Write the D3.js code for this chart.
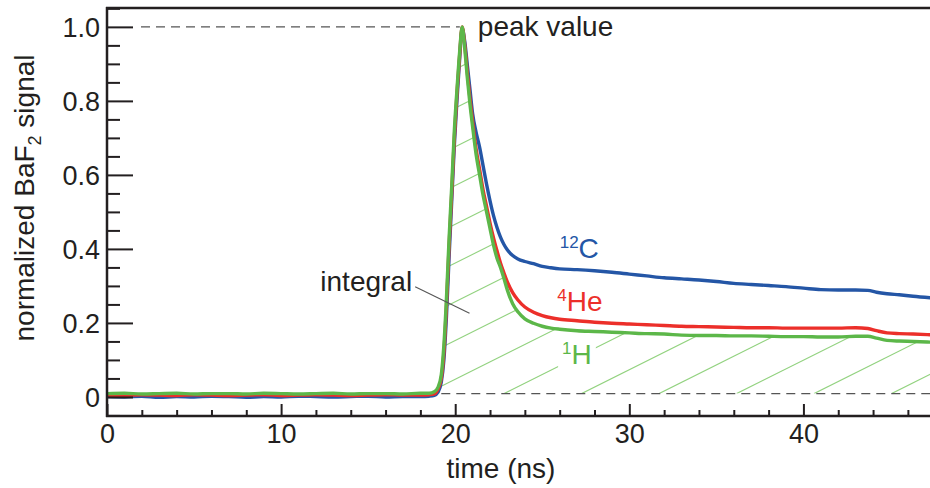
<!DOCTYPE html>
<html><head><meta charset="utf-8">
<script src="https://cdn.jsdelivr.net/npm/d3@7"></script>
<style>
body{margin:0;background:#fff}
svg{display:block}
text{font-family:'Liberation Sans',Arial,Helvetica,sans-serif;fill:#231f20}
</style>
</head><body><svg id="c" width="930" height="488"></svg>
<script>
// ---- data ----
const times = [0,1,2,3,4,5,6,7,8,9,10,11,12,13,14,15,16,17,18,18.5,18.8,19.0,19.2,19.35,19.5,19.65,19.8,19.95,20.1,20.25,20.4,20.55,20.7,20.85,21.0,21.2,21.4,21.6,21.8,22.0,22.2,22.4,22.6,22.8,23.0,23.3,23.6,24.0,24.5,25.0,25.5,26,27,28,29,30,31,32,33,34,35,36,37,38,39,40,41,42,43,43.7,44.2,44.8,45.5,46.3,47.3];
const c12 = [0.001,0.000,0.002,-0.001,0.001,0.000,0.002,0.001,-0.001,0.001,0.000,0.002,0.001,0.000,0.001,0.002,0.000,0.001,0.001,0.002,0.004,0.012,0.04,0.10,0.22,0.38,0.53,0.68,0.80,0.91,0.995,0.96,0.895,0.83,0.765,0.715,0.675,0.625,0.575,0.53,0.49,0.458,0.432,0.412,0.397,0.382,0.373,0.366,0.36,0.353,0.349,0.346,0.344,0.341,0.337,0.332,0.327,0.322,0.319,0.316,0.312,0.307,0.304,0.301,0.298,0.294,0.290,0.289,0.289,0.288,0.283,0.279,0.276,0.272,0.268];
const he4 = [0.005,0.004,0.006,0.005,0.004,0.006,0.005,0.004,0.005,0.006,0.004,0.005,0.006,0.005,0.004,0.005,0.006,0.005,0.005,0.006,0.008,0.02,0.05,0.12,0.25,0.41,0.55,0.70,0.82,0.92,1.0,0.95,0.875,0.805,0.745,0.67,0.615,0.56,0.515,0.47,0.43,0.395,0.362,0.335,0.31,0.282,0.262,0.243,0.229,0.22,0.214,0.21,0.206,0.202,0.199,0.197,0.195,0.193,0.191,0.19,0.189,0.188,0.187,0.187,0.186,0.186,0.186,0.186,0.187,0.185,0.179,0.173,0.171,0.17,0.168];
const h1 = [0.009,0.010,0.008,0.009,0.010,0.008,0.009,0.009,0.008,0.010,0.009,0.008,0.009,0.010,0.008,0.009,0.009,0.008,0.010,0.010,0.014,0.025,0.06,0.14,0.27,0.43,0.57,0.72,0.83,0.93,1.0,0.94,0.86,0.79,0.73,0.655,0.60,0.545,0.50,0.455,0.41,0.375,0.35,0.32,0.288,0.252,0.23,0.211,0.199,0.191,0.186,0.183,0.179,0.177,0.175,0.173,0.171,0.170,0.167,0.166,0.166,0.165,0.165,0.164,0.163,0.163,0.162,0.162,0.164,0.164,0.159,0.153,0.151,0.15,0.148];
const seriesNames = ["12C","4He","1H"];
const xTicks = [0,10,20,30,40];
const yTicks = [0,0.2,0.4,0.6,0.8,1.0];
const yTickLabels = ["0","0.2","0.4","0.6","0.8","1.0"];
const peakValue = 1.0;
const peakTime = 20.38;
const baselineLevel = 0.009;

// ---- layout ----
const svg = d3.select("#c");
const L = 107, R = 930, T = 8, B = 416;
const x = d3.scaleLinear().domain([0, 47.27]).range([L, R]);
const y = d3.scaleLinear().domain([-0.0515, 1.051]).range([B, T]);
const colors = {"12C":"#2456a6","4He":"#ec2f2a","1H":"#5cb749"};
const FS = 28, TFS = 27;

const series = [
  {name:"12C", vals:c12},
  {name:"4He", vals:he4},
  {name:"1H", vals:h1}
];

const line = d3.line().x(d=>x(d[0])).y(d=>y(d[1])).curve(d3.curveMonotoneX);

// hatch clip region: under the 1H curve, above baseline
const hatchData = times.map((t,i)=>[t,h1[i]]).filter(d=>d[0]>=18.8);
const area = d3.area().x(d=>x(d[0])).y0(y(baselineLevel)).y1(d=>y(d[1])).curve(d3.curveMonotoneX);
const defs = svg.append("defs");
defs.append("clipPath").attr("id","hclip").append("path").attr("d", area(hatchData));
defs.append("clipPath").attr("id","plot").append("rect").attr("x",L).attr("y",T).attr("width",R-L).attr("height",B-T);

const hg = svg.append("g").attr("clip-path","url(#hclip)");
const yb = y(baselineLevel);
const sp = 77.5, slope = 0.5, phase = x(22.81);
for (let k=-12;k<=12;k++){
  const x0 = phase + k*sp;
  hg.append("line").attr("x1",x0).attr("y1",yb).attr("x2",x0+900).attr("y2",yb-900*slope)
    .attr("stroke","#92d27f").attr("stroke-width",1.1);
}

// dashed reference lines
svg.append("line").attr("x1",L+34).attr("x2",x(peakTime)-2).attr("y1",y(peakValue)).attr("y2",y(peakValue))
  .attr("stroke","#555").attr("stroke-width",1.1).attr("stroke-dasharray","9,6");
svg.append("line").attr("x1",x(19.2)).attr("x2",R).attr("y1",yb).attr("y2",yb)
  .attr("stroke","#555").attr("stroke-width",1.1).attr("stroke-dasharray","9,6");

// curves
const cg = svg.append("g").attr("clip-path","url(#plot)");
series.forEach(s=>{
  cg.append("path").attr("d", line(times.map((t,i)=>[t,s.vals[i]])))
    .attr("fill","none").attr("stroke",colors[s.name]).attr("stroke-width",3.4)
    .attr("stroke-linejoin","round");
});

// axes
const ax = svg.append("g");
const axisCol = "#231f20";
const yMinor = d3.range(-0.05, 1.0501, 0.05).filter(v=>!yTicks.some(t=>Math.abs(t-v)<1e-6));
ax.append("g").attr("transform",`translate(${L},0)`)
  .call(d3.axisLeft(y).tickValues(yMinor).tickSize(-13).tickFormat(""))
  .call(g=>g.select(".domain").remove());
ax.append("g").attr("transform",`translate(${L},0)`)
  .call(d3.axisLeft(y).tickValues(yTicks).tickSize(-26).tickPadding(7).tickFormat((d,i)=>yTickLabels[i]))
  .call(g=>g.select(".domain").remove())
  .call(g=>g.selectAll("text").attr("dy","0.36em").style("font-size",TFS+"px").style("font-family","'Liberation Sans',Arial,sans-serif").attr("fill",axisCol));
const xMinor = d3.range(0, 47.3, 2).filter(v=>v%10!==0);
ax.append("g").attr("transform",`translate(0,${B})`)
  .call(d3.axisBottom(x).tickValues(xMinor).tickSize(-6).tickFormat(""))
  .call(g=>g.select(".domain").remove());
ax.append("g").attr("transform",`translate(0,${B})`)
  .call(d3.axisBottom(x).tickValues(xTicks).tickSize(-12).tickPadding(8).tickFormat(d3.format("d")))
  .call(g=>g.select(".domain").remove())
  .call(g=>g.selectAll("text").style("font-size",TFS+"px").style("font-family","'Liberation Sans',Arial,sans-serif").attr("fill",axisCol));
ax.selectAll(".tick line").attr("stroke",axisCol).attr("stroke-width",2);
ax.append("line").attr("x1",L).attr("x2",L).attr("y1",T-1).attr("y2",B+1).attr("stroke",axisCol).attr("stroke-width",2.5);
ax.append("line").attr("x1",L-1).attr("x2",R).attr("y1",B).attr("y2",B).attr("stroke",axisCol).attr("stroke-width",2.5);
ax.append("line").attr("x1",L-1).attr("x2",R).attr("y1",T).attr("y2",T).attr("stroke",axisCol).attr("stroke-width",2.5);

// axis titles
svg.append("text").attr("x",501).attr("y",478).attr("text-anchor","middle")
  .style("font-size",FS+"px").text("time (ns)");
const yl = svg.append("text").attr("transform","translate(34,198) rotate(-90)").attr("text-anchor","middle")
  .style("font-size",FS+"px");
yl.append("tspan").text("normalized BaF");
yl.append("tspan").attr("dy",7).style("font-size","18px").text("2");
yl.append("tspan").attr("dy",-7).text(" signal");

// annotations
svg.append("text").attr("x",x(peakTime)+16).attr("y",y(peakValue)+9).style("font-size",FS+"px").text("peak value");
svg.append("line").attr("x1",x(17.7)).attr("y1",y(0.298)).attr("x2",x(20.82)).attr("y2",y(0.226))
  .attr("stroke","#555").attr("stroke-width",1.1);
svg.append("text").attr("x",x(17.7)-3).attr("y",y(0.298)+4).attr("text-anchor","end").style("font-size",FS+"px").text("integral");

// series labels
const labelPos = {"12C":[26.0,0.376],"4He":[25.86,0.231],"1H":[26.14,0.089]};
series.forEach(s=>{
  const [t,v] = labelPos[s.name];
  const m = s.name.match(/^(\d+)(.*)$/);
  const g = svg.append("g");
  const tx = g.append("text").attr("x",x(t)).attr("y",y(v)).style("fill",colors[s.name]);
  tx.append("tspan").attr("dy",-10).style("font-size","17px").text(m[1]);
  tx.append("tspan").attr("dy",10).style("font-size",FS+"px").text(m[2]);
  if (s.name==="1H"){
    const bb = tx.node().getBBox();
    g.insert("rect","text").attr("x",bb.x-4).attr("y",bb.y-2).attr("width",bb.width+8).attr("height",bb.height+4).attr("fill","#fff");
  }
});
</script>
</body></html>
